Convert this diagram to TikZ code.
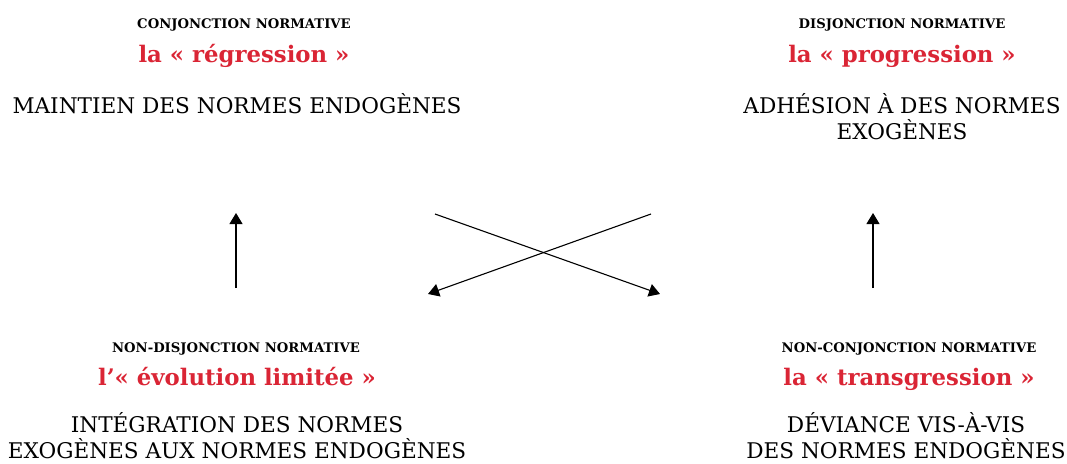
\documentclass[tikz,border=0pt]{standalone}
\usepackage{fontspec}
\setmainfont{DejaVu Serif}
\usetikzlibrary{arrows.meta,positioning}
\definecolor{rouge}{RGB}{218,37,53}

\begin{document}
\begin{tikzpicture}[x=1pt,y=-1pt]
\tikzstyle{titre}=[anchor=base,inner sep=0pt,font=\bfseries\fontsize{13.2}{15}\selectfont]
\tikzstyle{nom}=[anchor=base,inner sep=0pt,text=rouge,font=\bfseries\fontsize{22.8}{26}\selectfont]
\tikzstyle{texte}=[anchor=base,inner sep=0pt,align=center,font=\fontsize{21.6}{26}\selectfont]
\tikzstyle{fleche}=[-{Triangle[width=13pt,length=11pt]},line width=1.1pt]
\useasboundingbox (0,0) rectangle (1067,463);

\node[titre] (t1) at (244,28) {CONJONCTION NORMATIVE};
\node[nom] (n1) at (244,62) {la « régression »};
\node[texte] (x1) at (237,113) {MAINTIEN DES NORMES ENDOGÈNES};

\node[titre] (t2) at (902,28) {DISJONCTION NORMATIVE};
\node[nom] (n2) at (902,62) {la « progression »};
\node[texte] (x2) at (902,139) {ADHÉSION À DES NORMES\\EXOGÈNES};

\node[titre] (t3) at (236,352) {NON-DISJONCTION NORMATIVE};
\node[nom] (n3) at (237,385) {l’« évolution limitée »};
\node[texte] (x3) at (237,458) {INTÉGRATION DES NORMES\\EXOGÈNES AUX NORMES ENDOGÈNES};

\node[titre] (t4) at (909,352) {NON-CONJONCTION NORMATIVE};
\node[nom] (n4) at (909,385) {la « transgression »};
\node[texte] (x4) at (906,458) {DÉVIANCE VIS-À-VIS\\DES NORMES ENDOGÈNES};

\coordinate (g1) at (236,288);
\coordinate (g2) at (236,213);
\coordinate (d1) at (873,288);
\coordinate (d2) at (873,213);
\coordinate (c1) at (435,214);
\coordinate (c2) at (660,294);
\coordinate (c3) at (651,214);
\coordinate (c4) at (428,294);

\draw[fleche] (g1) -- (g2);
\draw[fleche] (d1) -- (d2);
\draw[fleche] (c1) -- (c2);
\draw[fleche] (c3) -- (c4);
\end{tikzpicture}
\end{document}
